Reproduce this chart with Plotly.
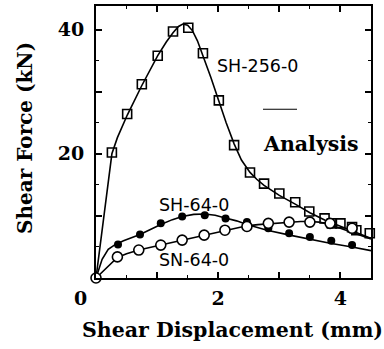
import plotly.graph_objects as go

# ---- data ----
sh256_x = [0.26, 0.51, 0.75, 1.01, 1.26, 1.51, 1.75, 2.01, 2.26, 2.52, 2.75, 3.0, 3.26, 3.49, 3.74, 3.86, 4.0, 4.19, 4.26, 4.48]
sh256_y = [20.2, 26.4, 31.2, 35.8, 39.7, 40.3, 36.2, 28.6, 21.4, 17.0, 15.2, 13.6, 12.2, 10.7, 9.6, 8.8, 8.8, 8.2, 7.7, 7.2]
sh256_fit_x = [0, 0.13, 0.26, 0.35, 0.51, 0.75, 1.01, 1.15, 1.26, 1.35, 1.42, 1.5, 1.58, 1.66, 1.75, 1.88, 2.01, 2.13,
               2.26, 2.38, 2.52, 2.63, 2.75, 3.0, 3.26, 3.5, 3.75, 4.0, 4.25, 4.5]
sh256_fit_y = [0, 10.0, 20.0, 22.6, 26.2, 31.0, 35.8, 38.0, 39.5, 40.5, 40.9, 40.7, 39.8, 38.2, 35.8, 32.3, 28.5, 25.0,
               21.6, 19.0, 17.0, 15.9, 14.9, 13.3, 11.9, 10.5, 9.3, 8.3, 7.3, 6.4]

sh64_x = [0.36, 0.72, 1.06, 1.41, 1.78, 2.12, 2.47, 2.82, 3.16, 3.5, 3.85, 4.19]
sh64_y = [5.4, 7.0, 8.8, 9.9, 10.1, 9.6, 9.0, 8.0, 7.2, 6.6, 6.0, 5.3]
sh64_fit_x = [0, 0.1, 0.2, 0.3, 0.45, 0.72, 1.06, 1.25, 1.41, 1.6, 1.78, 1.95, 2.1, 2.3, 2.47, 2.8, 3.17, 3.5, 3.83, 4.19, 4.5]
sh64_fit_y = [0, 3.0, 4.6, 5.3, 6.0, 7.0, 8.6, 9.4, 9.9, 10.25, 10.3, 10.1, 9.7, 9.2, 8.6, 7.7, 6.9, 6.2, 5.6, 5.0, 4.4]

sn64_x = [0.0, 0.35, 0.7, 1.06, 1.41, 1.77, 2.11, 2.47, 2.82, 3.16, 3.5, 3.83, 4.19]
sn64_y = [0.0, 3.4, 4.5, 5.3, 6.1, 6.9, 7.7, 8.3, 8.8, 9.0, 9.0, 8.8, 8.0]
sn64_fit_x = [0, 0.35, 0.5, 0.7, 1.06, 1.41, 1.77, 2.11, 2.3, 2.47, 2.65, 2.8, 3.0, 3.17, 3.35, 3.5, 3.65, 3.8, 4.0, 4.25, 4.5]
sn64_fit_y = [0, 3.3, 3.9, 4.5, 5.3, 6.1, 6.9, 7.6, 8.1, 8.4, 8.6, 8.7, 8.9, 9.0, 9.1, 9.1, 9.0, 8.7, 8.0, 7.2, 6.3]

x_tickvals = [0, 1, 2, 3, 4]
x_ticktext = ["", "", "2", "", "4"]
y_tickvals = [0, 10, 20, 30, 40]
y_ticktext = ["", "", "20", "", "40"]

LINE = dict(color="black", width=1.6, shape="linear")

fig = go.Figure()
for fx, fy in [(sh256_fit_x, sh256_fit_y), (sh64_fit_x, sh64_fit_y), (sn64_fit_x, sn64_fit_y)]:
    fig.add_trace(go.Scatter(x=fx, y=fy, mode="lines", line=LINE, showlegend=False, hoverinfo="skip"))

fig.add_trace(go.Scatter(x=sh256_x, y=sh256_y, mode="markers", showlegend=False, cliponaxis=False,
                         marker=dict(symbol="square-open", size=9, color="black", line=dict(width=1.6))))
fig.add_trace(go.Scatter(x=sh64_x, y=sh64_y, mode="markers", showlegend=False, cliponaxis=False,
                         marker=dict(symbol="circle", size=8, color="black")))
fig.add_trace(go.Scatter(x=sn64_x, y=sn64_y, mode="markers", showlegend=False, cliponaxis=False,
                         marker=dict(symbol="circle", size=10, color="white", line=dict(color="black", width=1.6))))

serif_b = dict(family="DejaVu Serif", size=19, color="black", weight="bold")
sans = dict(family="DejaVu Sans", size=17.5, color="black")

axis_common = dict(showline=True, linecolor="black", linewidth=2, mirror="allticks",
                   ticks="inside", ticklen=6, tickwidth=1.5, tickcolor="black",
                   showgrid=False, zeroline=False, tickfont=serif_b,
                   minor=dict(ticks="inside", ticklen=3, tickwidth=1.2, tickcolor="black", showgrid=False))

fig.update_xaxes(range=[0, 4.5], tickvals=x_tickvals, ticktext=x_ticktext, ticklabelstandoff=2,
                 **{**axis_common, "minor": {**axis_common["minor"], "dtick": 0.5}})
fig.update_yaxes(range=[0, 43.8], tickvals=y_tickvals, ticktext=y_ticktext, ticklabelstandoff=6,
                 **{**axis_common, "minor": {**axis_common["minor"], "dtick": 5}})

annotations = [
    dict(x=1.95, y=34.1, xref="x", yref="y", text="SH-256-0", font=sans, xanchor="left", yanchor="middle", showarrow=False),
    dict(x=1.0, y=11.7, xref="x", yref="y", text="SH-64-0", font=sans, xanchor="left", yanchor="middle", showarrow=False),
    dict(x=1.0, y=2.9, xref="x", yref="y", text="SN-64-0", font=sans, xanchor="left", yanchor="middle", showarrow=False),
    dict(x=2.70, y=21.6, xref="x", yref="y", text="Analysis", font=dict(serif_b, size=20.5), xanchor="left", yanchor="middle", showarrow=False),
    dict(x=-0.058, y=-0.073, xref="paper", yref="paper", text="0", font=serif_b, xanchor="center", yanchor="middle", showarrow=False),
    dict(x=0.495, y=-0.19, xref="paper", yref="paper", text="Shear Displacement (mm)", font=dict(serif_b, size=20.5),
         xanchor="center", yanchor="middle", showarrow=False),
    dict(x=-0.258, y=0.515, xref="paper", yref="paper", text="Shear Force (kN)", font=dict(serif_b, size=20),
         textangle=-90, xanchor="center", yanchor="middle", showarrow=False),
]

fig.update_layout(
    width=384, height=349,
    margin=dict(l=96, r=13, t=4, b=71),
    paper_bgcolor="white", plot_bgcolor="white",
    annotations=annotations,
    shapes=[dict(type="line", xref="paper", yref="paper", x0=(263-96)/275, x1=(297-96)/275,
                 y0=(278-108)/274, y1=(278-108)/274, line=dict(color="black", width=1.2))],
)

fig.write_html("out.html")
